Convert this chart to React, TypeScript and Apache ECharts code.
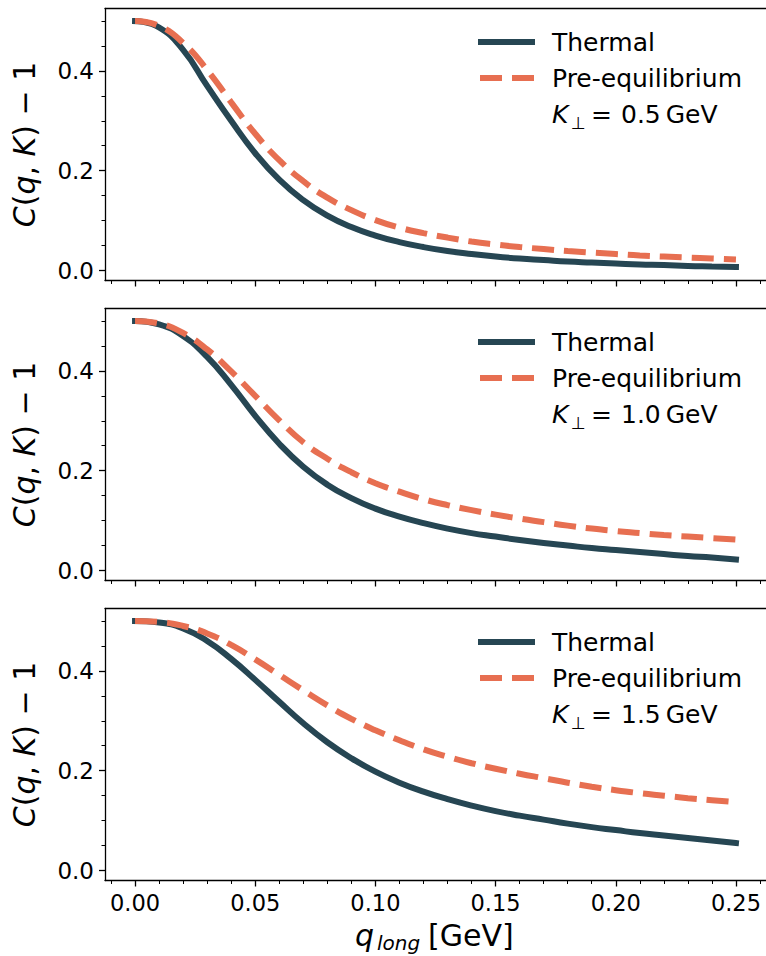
import React, { useEffect, useRef } from 'react';
import * as echarts from 'echarts';

const Q = [0.0, 0.01, 0.02, 0.03, 0.04, 0.05, 0.06, 0.07, 0.08, 0.09, 0.1, 0.11, 0.12, 0.13, 0.14, 0.15, 0.16, 0.17, 0.18, 0.19, 0.2, 0.21, 0.22, 0.23, 0.24, 0.25];

const thermalK05 = [0.5, 0.487, 0.442, 0.37, 0.3, 0.235, 0.182, 0.141, 0.11, 0.087, 0.07, 0.057, 0.047, 0.039, 0.033, 0.028, 0.024, 0.021, 0.018, 0.016, 0.014, 0.012, 0.011, 0.009, 0.008, 0.007];
const preK05 = [0.5, 0.49, 0.456, 0.402, 0.337, 0.274, 0.221, 0.179, 0.146, 0.121, 0.101, 0.086, 0.075, 0.066, 0.058, 0.052, 0.047, 0.043, 0.039, 0.036, 0.033, 0.03, 0.028, 0.026, 0.024, 0.022];

const thermalK10 = [0.5, 0.493, 0.47, 0.428, 0.372, 0.31, 0.254, 0.208, 0.172, 0.145, 0.124, 0.108, 0.095, 0.084, 0.075, 0.068, 0.061, 0.055, 0.05, 0.045, 0.041, 0.037, 0.033, 0.029, 0.026, 0.022];
const preK10 = [0.5, 0.495, 0.476, 0.443, 0.399, 0.35, 0.301, 0.257, 0.224, 0.197, 0.175, 0.158, 0.143, 0.131, 0.121, 0.112, 0.104, 0.097, 0.09, 0.084, 0.079, 0.075, 0.071, 0.068, 0.065, 0.062];

const thermalK15 = [0.5, 0.497, 0.485, 0.46, 0.424, 0.382, 0.338, 0.295, 0.257, 0.225, 0.198, 0.176, 0.158, 0.143, 0.13, 0.119, 0.11, 0.102, 0.094, 0.087, 0.081, 0.075, 0.07, 0.065, 0.06, 0.055];
const preK15 = [0.5, 0.498, 0.49, 0.475, 0.452, 0.423, 0.392, 0.361, 0.331, 0.304, 0.281, 0.261, 0.243, 0.228, 0.215, 0.204, 0.194, 0.185, 0.176, 0.168, 0.161, 0.155, 0.15, 0.145, 0.141, 0.137];

const K_LABELS = ['0.5', '1.0', '1.5'];
const SERIES_NAMES = ['Thermal', 'Pre-equilibrium'];

const X_MAJOR = [0, 0.05, 0.1, 0.15, 0.2, 0.25];
const X_MINOR = [-0.01, 0.01, 0.02, 0.03, 0.04, 0.06, 0.07, 0.08, 0.09, 0.11, 0.12, 0.13, 0.14, 0.16, 0.17, 0.18, 0.19, 0.21, 0.22, 0.23, 0.24, 0.26];
const Y_MAJOR = [0, 0.2, 0.4];
const Y_MINOR = [0.05, 0.1, 0.15, 0.25, 0.3, 0.35, 0.45, 0.5];

const THERMAL_COLOR = '#264653';
const PRE_COLOR = '#e76f51';
const FONT = 'DejaVu Sans';

const PANELS = [
  { thermal: thermalK05, pre: preK05, k: K_LABELS[0] },
  { thermal: thermalK10, pre: preK10, k: K_LABELS[1] },
  { thermal: thermalK15, pre: preK15, k: K_LABELS[2] },
];

export default function App() {
  const ref = useRef<HTMLDivElement>(null);

  useEffect(() => {
    if (!ref.current) return;
    const chart = echarts.init(ref.current, null, { renderer: 'svg' });

    const grids: any[] = [];
    const xAxes: any[] = [];
    const yAxes: any[] = [];
    const series: any[] = [];
    const graphic: any[] = [];
    const axisLineStyle = { color: '#000', width: 1.3 };
    const LEG = 25;

    PANELS.forEach((p, i) => {
      const top = 8.5 + 300 * i;
      grids.push({ left: 105, right: -1.5, top, height: 272, containLabel: false });
      xAxes.push({
        type: 'value', gridIndex: i, min: -0.0125, max: 0.2625, position: 'bottom',
        axisLine: { show: true, onZero: false, lineStyle: axisLineStyle },
        axisTick: { show: true, customValues: X_MAJOR, length: 6, lineStyle: axisLineStyle },
        axisLabel: {
          show: i === 2, customValues: X_MAJOR, formatter: (v: number) => v.toFixed(2),
          fontSize: 22.5, color: '#000', margin: 11, fontFamily: FONT,
        },
        splitLine: { show: false },
      });
      xAxes.push({
        type: 'value', gridIndex: i, min: -0.0125, max: 0.2625, position: 'bottom',
        axisLine: { show: false, onZero: false },
        axisTick: { show: true, customValues: X_MINOR, length: 3.5, lineStyle: { color: '#000', width: 1 } },
        axisLabel: { show: false },
        splitLine: { show: false },
      });
      xAxes.push({
        type: 'value', gridIndex: i, min: -0.0125, max: 0.2625, position: 'top',
        axisLine: { show: true, onZero: false, lineStyle: axisLineStyle },
        axisTick: { show: false }, axisLabel: { show: false }, splitLine: { show: false },
      });
      yAxes.push({
        type: 'value', gridIndex: i, min: -0.02, max: 0.525, position: 'left',
        axisLine: { show: true, onZero: false, lineStyle: axisLineStyle },
        axisTick: { show: true, customValues: Y_MAJOR, length: 6, lineStyle: axisLineStyle },
        axisLabel: {
          show: true, customValues: Y_MAJOR, formatter: (v: number) => v.toFixed(1),
          fontSize: 23, color: '#000', margin: 11, fontFamily: FONT,
        },
        splitLine: { show: false },
        name: '{i|C}{n|(}{i|q}{n|, }{i|K}{n|) − 1}',
        nameLocation: 'middle', nameRotate: 90, nameGap: 66,
        nameTextStyle: {
          rich: {
            i: { fontStyle: 'italic', fontSize: 30, fontFamily: FONT, color: '#000' },
            n: { fontSize: 30, fontFamily: FONT, color: '#000' },
          },
        },
      });
      yAxes.push({
        type: 'value', gridIndex: i, min: -0.02, max: 0.525, position: 'left',
        axisLine: { show: false, onZero: false },
        axisTick: { show: true, customValues: Y_MINOR, length: 3.5, lineStyle: { color: '#000', width: 1 } },
        axisLabel: { show: false }, splitLine: { show: false },
      });

      series.push({
        type: 'line', name: SERIES_NAMES[0], xAxisIndex: 3 * i, yAxisIndex: 2 * i,
        data: Q.map((q, j) => [q, p.thermal[j]]),
        showSymbol: false, symbol: 'none', smooth: 0.5,
        lineStyle: { color: THERMAL_COLOR, width: 6, cap: 'square' }, z: 2,
      });
      series.push({
        type: 'line', name: SERIES_NAMES[1], xAxisIndex: 3 * i, yAxisIndex: 2 * i,
        data: Q.map((q, j) => [q, p.pre[j]]),
        showSymbol: false, symbol: 'none', smooth: 0.5,
        lineStyle: { color: PRE_COLOR, width: 6, type: [22, 10], cap: 'butt' }, z: 3,
      });

      const oy = 300 * i;
      graphic.push(
        { type: 'line', shape: { x1: 478, y1: 42 + oy, x2: 535, y2: 42 + oy }, style: { stroke: THERMAL_COLOR, lineWidth: 6 } },
        { type: 'line', shape: { x1: 480, y1: 78 + oy, x2: 535, y2: 78 + oy }, style: { stroke: PRE_COLOR, lineWidth: 6, lineDash: [22, 10] } },
        { type: 'text', x: 552, y: 42 + oy, style: { text: SERIES_NAMES[0], fontSize: LEG, fontFamily: FONT, fill: '#000', verticalAlign: 'middle' } },
        { type: 'text', x: 552, y: 78 + oy, style: { text: SERIES_NAMES[1], fontSize: LEG, fontFamily: FONT, fill: '#000', verticalAlign: 'middle' } },
        { type: 'text', x: 552, y: 114 + oy, style: { text: 'K', fontSize: LEG, fontStyle: 'italic', fontFamily: FONT, fill: '#000', verticalAlign: 'middle' } },
        { type: 'text', x: 571, y: 123 + oy, style: { text: '⊥', fontSize: 17, fontFamily: FONT, fill: '#000', verticalAlign: 'middle' } },
        { type: 'text', x: 591, y: 114 + oy, style: { text: '=', fontSize: LEG, fontFamily: FONT, fill: '#000', verticalAlign: 'middle' } },
        { type: 'text', x: 621, y: 114 + oy, style: { text: p.k + '\u2009GeV', fontSize: LEG, fontFamily: FONT, fill: '#000', verticalAlign: 'middle' } },
      );
    });

    graphic.push(
      { type: 'text', x: 355, y: 935, style: { text: 'q', fontSize: 30, fontStyle: 'italic', fontFamily: FONT, fill: '#000', verticalAlign: 'middle' } },
      { type: 'text', x: 377, y: 943, style: { text: 'long', fontSize: 20, fontStyle: 'italic', fontFamily: FONT, fill: '#000', verticalAlign: 'middle' } },
      { type: 'text', x: 428, y: 935, style: { text: '[GeV]', fontSize: 30, fontFamily: FONT, fill: '#000', verticalAlign: 'middle' } },
    );

    chart.setOption({
      animation: false,
      backgroundColor: '#fff',
      grid: grids,
      xAxis: xAxes,
      yAxis: yAxes,
      series,
      graphic,
    });

    return () => chart.dispose();
  }, []);

  return <div ref={ref} style={{ position: 'fixed', left: 0, top: 0, width: 766, height: 956 }} />;
}
